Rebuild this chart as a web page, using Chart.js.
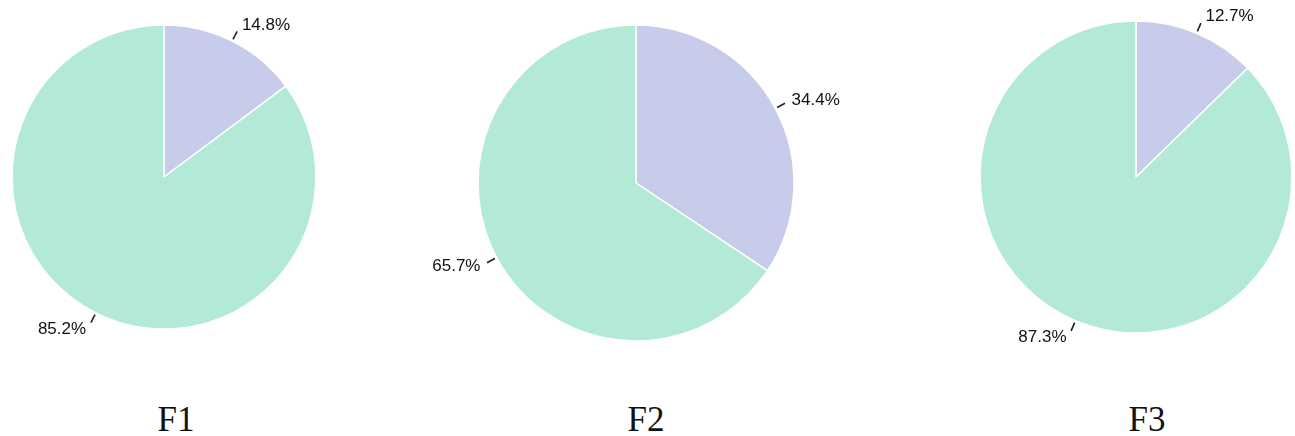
<!DOCTYPE html>
<html>
<head>
<meta charset="utf-8">
<script src="https://cdn.jsdelivr.net/npm/chart.js@4.4.1/dist/chart.umd.min.js"></script>
<style>
  html, body { margin: 0; padding: 0; background: #fff; }
  body { width: 1295px; height: 436px; position: relative; overflow: hidden; }
  .pie { position: absolute; }
  .caption {
    position: absolute; width: 120px; text-align: center;
    font-family: "Liberation Serif", "Times New Roman", serif;
    font-size: 35px; color: #111; line-height: 1;
  }
</style>
</head>
<body>
<script>
// data
const panelNames = ['F1', 'F2', 'F3'];
const sliceNames = ['Part A', 'Part B'];
const f1Values = [14.8, 85.2];
const f2Values = [34.4, 65.7];
const f3Values = [12.7, 87.3];
const sliceColors = ['#c6cce9', '#b2ead6'];

const allValues = [f1Values, f2Values, f3Values];

// where each pie sits: center x/y and radius in px
const layout = [
    { cx: 164, cy: 177, r: 152, capX: 176, capY: 402 },
    { cx: 636, cy: 183, r: 158, capX: 646, capY: 402 },
    { cx: 1136, cy: 177, r: 156, capX: 1147, capY: 402 }
];

// percent labels outside the pie with a short tick
const outsideLabels = {
    id: 'outsideLabels',
    afterDatasetsDraw(chart) {
        const ctx = chart.ctx;
        const meta = chart.getDatasetMeta(0);
        const vals = chart.data.datasets[0].data;
        ctx.save();
        ctx.font = '17px "Liberation Sans", Arial, sans-serif';
        ctx.fillStyle = '#111';
        ctx.strokeStyle = '#222';
        ctx.lineWidth = 1.6;
        meta.data.forEach((arc, i) => {
            const p = arc.getProps(['x', 'y', 'startAngle', 'endAngle', 'outerRadius'], true);
            const mid = (p.startAngle + p.endAngle) / 2;
            const dx = Math.cos(mid), dy = Math.sin(mid);
            ctx.beginPath();
            ctx.moveTo(p.x + dx * (p.outerRadius + 2), p.y + dy * (p.outerRadius + 2));
            ctx.lineTo(p.x + dx * (p.outerRadius + 11), p.y + dy * (p.outerRadius + 11));
            ctx.stroke();
            const right = dx >= 0;
            ctx.textAlign = right ? 'left' : 'right';
            ctx.textBaseline = 'middle';
            const tx = p.x + dx * (p.outerRadius + 15) + (right ? 3 : -3);
            const ty = p.y + dy * (p.outerRadius + 15) + dy * 3;
            ctx.fillText(vals[i].toFixed(1) + '%', tx, ty);
        });
        ctx.restore();
    }
};

layout.forEach((pos, k) => {
    const w = 2 * (pos.r + 80), h = 2 * (pos.r + 30);
    const box = document.createElement('div');
    box.className = 'pie';
    box.style.left = (pos.cx - w / 2) + 'px';
    box.style.top = (pos.cy - h / 2) + 'px';
    box.style.width = w + 'px';
    box.style.height = h + 'px';
    const canvas = document.createElement('canvas');
    box.appendChild(canvas);
    document.body.appendChild(box);

    new Chart(canvas.getContext('2d'), {
        type: 'pie',
        data: {
            labels: sliceNames,
            datasets: [{
                data: allValues[k],
                backgroundColor: sliceColors,
                borderColor: '#ffffff',
                borderWidth: 1.5
            }]
        },
        options: {
            responsive: true, maintainAspectRatio: false,
            animation: false,
            radius: pos.r,
            plugins: { legend: { display: false }, tooltip: { enabled: false } }
        },
        plugins: [outsideLabels]
    });

    const cap = document.createElement('div');
    cap.className = 'caption';
    cap.textContent = panelNames[k];
    cap.style.left = (pos.capX - 60) + 'px';
    cap.style.top = pos.capY + 'px';
    document.body.appendChild(cap);
});
</script>
</body>
</html>
